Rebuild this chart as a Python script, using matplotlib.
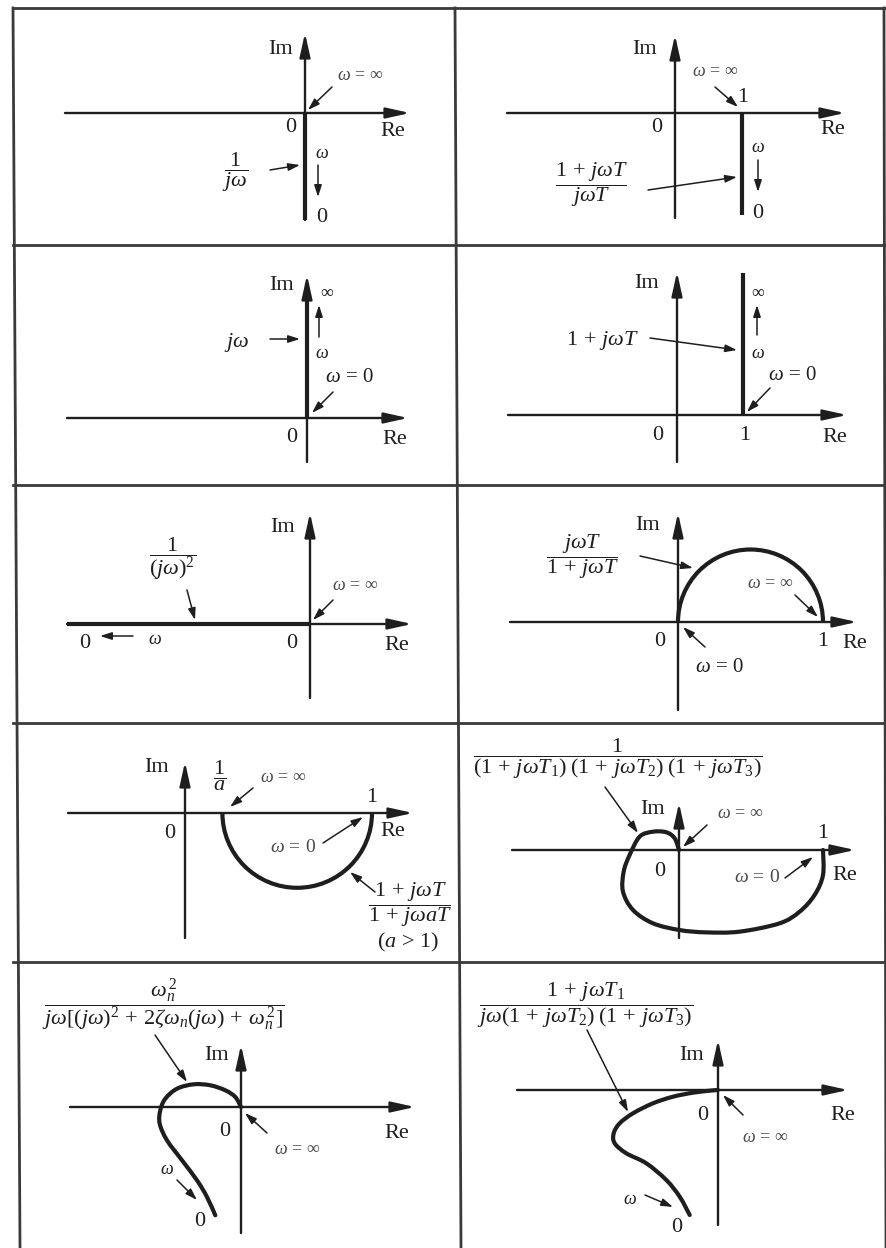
import numpy as np
import matplotlib
matplotlib.use('Agg')
import matplotlib.pyplot as plt
from matplotlib.patches import Arc, PathPatch
from matplotlib.path import Path
from matplotlib.transforms import Affine2D

plt.rcParams['font.family'] = ['Liberation Serif', 'DejaVu Serif']
plt.rcParams['mathtext.fontset'] = 'custom'
plt.rcParams['mathtext.rm'] = 'Liberation Serif'
plt.rcParams['mathtext.it'] = 'Liberation Serif:italic'
plt.rcParams['mathtext.bf'] = 'Liberation Serif:bold'

# ---- Nyquist loci, in Re/Im units of each panel ----
# straight loci: end points
re_int, im_int = [0, 0], [0, -1.07]              # 1/(jw)
re_pi, im_pi = [1, 1], [0, -1.52]                # (1+jwT)/(jwT)
re_diff, im_diff = [0, 0], [0, 1.35]             # jw
re_pd, im_pd = [1, 1], [0, 2.15]                 # 1+jwT
re_dint, im_dint = [0, -2.43], [0, 0]            # 1/(jw)^2

# lead network 1/a ratio
a_lag = 5.0

# third order lag 1/((1+jwT1)(1+jwT2)(1+jwT3))
re_lag3 = [1.0, 1.0, 0.942, 0.838, 0.699, 0.421, 0.190, 0.005, -0.181, -0.319,
           -0.389, -0.384, -0.343, -0.273, -0.181, -0.088, -0.030, 0.0]
im_lag3 = [0.0, -0.174, -0.312, -0.428, -0.509, -0.567, -0.572, -0.556, -0.509, -0.417,
           -0.289, -0.150, -0.035, 0.093, 0.127, 0.123, 0.081, 0.0]

# type 1 with 2nd order oscillatory part
re_osc = [-0.257, -0.34, -0.44, -0.59, -0.74, -0.813, -0.807, -0.757, -0.64, -0.473,
          -0.307, -0.157, -0.057, 0.0]
im_osc = [-1.083, -0.9, -0.733, -0.533, -0.333, -0.167, -0.033, 0.083, 0.183, 0.227,
          0.217, 0.167, 0.1, 0.0]

# type 1 with lead and two lags
re_t1 = [-0.283, -0.383, -0.517, -0.717, -0.917, -1.033, -1.043, -0.983, -0.85, -0.65,
         -0.45, -0.25, -0.083, 0.0]
im_t1 = [-1.25, -1.067, -0.9, -0.733, -0.633, -0.533, -0.433, -0.333, -0.233, -0.133,
         -0.067, -0.027, -0.007, 0.0]

INK = '#1e1e1e'
SOFT = '#4a4a4a'
LW_AX = 1.7
LW_CURVE = 3.0
FS = 16        # main labels
FS_W = 13      # small omega labels

fig = plt.figure(figsize=(8.86, 12.48), dpi=100)
base = fig.add_axes([0, 0, 1, 1])
base.set_xlim(0, 886)
base.set_ylim(1248, 0)
base.axis('off')


def panel(ox, oy, s):
    # Re/Im units -> page pixels
    return Affine2D().scale(s, -s).translate(ox, oy) + base.transData


def txt(x, y, s, size=FS, color=INK, **kw):
    base.text(x, y, s, fontsize=size, color=color, ha='center', va='center', **kw)


def ptr(x0, y0, x1, y1, lw=1.1):
    base.annotate('', xy=(x1, y1), xytext=(x0, y0),
                  arrowprops=dict(arrowstyle='-|>,head_length=0.5,head_width=0.16',
                                  lw=lw, color=INK, shrinkA=0, shrinkB=0,
                                  mutation_scale=14))


def cross(ox, oy, xl, xr, yt, yb):
    for (x0, y0, x1, y1) in [(xl, oy, xr, oy), (ox, yb, ox, yt)]:
        base.annotate('', xy=(x1, y1), xytext=(x0, y0),
                      arrowprops=dict(arrowstyle='-|>,head_length=0.72,head_width=0.16',
                                      lw=LW_AX, color=INK, shrinkA=0, shrinkB=0,
                                      mutation_scale=20))


def smooth(xs, ys):
    pts = np.column_stack([xs, ys]).astype(float)
    verts, codes = [pts[0]], [Path.MOVETO]
    n = len(pts)
    for i in range(n - 1):
        p0 = pts[i - 1] if i > 0 else pts[i]
        p1, p2 = pts[i], pts[i + 1]
        p3 = pts[i + 2] if i + 2 < n else pts[i + 1]
        verts += [p1 + (p2 - p0) / 6, p2 - (p3 - p1) / 6, p2]
        codes += [Path.CURVE4] * 3
    return Path(verts, codes)


def curve(xs, ys, tr):
    base.add_patch(PathPatch(smooth(xs, ys), fill=False, lw=LW_CURVE, ec=INK,
                             transform=tr, capstyle='round'))


W_INF = r'$\omega\,=\,\infty$'
W_ZERO = r'$\omega\,=\,0$'

# table frame
frame = dict(color='#3a3a3a', lw=2.0)
base.plot([13, 20], [8, 1248], **frame)
base.plot([455, 461], [8, 1248], **frame)
base.plot([884, 886], [8, 1248], **frame)
base.plot([13, 886], [8, 8], **frame)
for y in [245, 485, 723, 962]:
    base.plot([13, 886], [y, y], **frame)

# ---- row 1 left: 1/jw ----
cross(305, 113, 65, 410, 33, 220)
base.plot(re_int, im_int, transform=panel(305, 113, 100), lw=LW_CURVE, color=INK,
          solid_capstyle='butt')
txt(281, 50, 'Im')
txt(360, 75, W_INF, FS_W, SOFT)
ptr(332, 87, 308, 110)
txt(291, 128, '0')
txt(393, 132, 'Re')
txt(235, 172, r'$\dfrac{1}{j\omega}$')
ptr(270, 170, 300, 165)
txt(322, 154, r'$\omega$', FS_W)
ptr(318, 165, 318, 197)
txt(322, 218, '0')

# ---- row 1 right: (1+jwT)/jwT ----
cross(675, 113, 507, 845, 35, 218)
base.plot(re_pi, im_pi, transform=panel(675, 113, 67), lw=LW_CURVE, color=INK,
          solid_capstyle='butt')
txt(645, 49, 'Im')
txt(715, 72, W_INF, FS_W, SOFT)
txt(743, 97, '1')
ptr(715, 87, 738, 107)
txt(657, 128, '0')
txt(833, 130, 'Re')
txt(592, 185, r'$\dfrac{1\,+\,j\omega T}{j\omega T}$')
ptr(648, 190, 737, 177)
txt(758, 148, r'$\omega$', FS_W)
ptr(758, 160, 758, 192)
txt(758, 213, '0')

# ---- row 2 left: jw ----
cross(307, 418, 67, 408, 275, 462)
base.plot(re_diff, im_diff, transform=panel(307, 418, 100), lw=LW_CURVE, color=INK,
          solid_capstyle='butt')
txt(282, 285, 'Im')
txt(327, 291, r'$\infty$', FS_W)
ptr(319, 337, 319, 305)
txt(322, 353, r'$\omega$', FS_W)
txt(237, 342, r'$j\omega$')
ptr(270, 339, 300, 339)
txt(350, 378, W_ZERO, 15)
ptr(333, 392, 312, 413)
txt(292, 437, '0')
txt(395, 440, 'Re')

# ---- row 2 right: 1+jwT ----
cross(677, 415, 508, 847, 272, 462)
base.plot(re_pd, im_pd, transform=panel(677, 415, 66), lw=LW_CURVE, color=INK,
          solid_capstyle='butt')
txt(647, 283, 'Im')
txt(758, 291, r'$\infty$', FS_W)
ptr(757, 335, 757, 305)
txt(758, 353, r'$\omega$', FS_W)
txt(603, 340, r'$1\,+\,j\omega T$')
ptr(650, 338, 737, 350)
txt(793, 375, W_ZERO, 15)
ptr(770, 388, 747, 412)
txt(658, 435, '0')
txt(745, 435, '1')
txt(835, 437, 'Re')

# ---- row 3 left: 1/(jw)^2 ----
cross(310, 624, 67, 412, 513, 698)
base.plot(re_dint, im_dint, transform=panel(310, 624, 100), lw=LW_CURVE, color=INK,
          solid_capstyle='butt')
txt(283, 527, 'Im')
txt(355, 585, W_INF, FS_W, SOFT)
ptr(333, 600, 313, 620)
txt(292, 643, '0')
txt(397, 645, 'Re')
txt(173, 559, r'$\dfrac{1}{(j\omega)^2}$')
ptr(187, 590, 195, 620)
txt(85, 643, '0')
ptr(133, 636, 100, 636)
txt(155, 639, r'$\omega$', FS_W)

# ---- row 3 right: jwT/(1+jwT) ----
cross(678, 622, 510, 857, 513, 710)
base.add_patch(Arc((0.5, 0), 1.0, 1.0, theta1=0, theta2=180, lw=LW_CURVE, color=INK,
                   transform=panel(678, 622, 145)))
txt(648, 525, 'Im')
txt(583, 557, r'$\dfrac{j\omega T}{1\,+\,j\omega T}$')
ptr(640, 556, 693, 568)
txt(770, 583, W_INF, FS_W, SOFT)
ptr(795, 595, 818, 617)
txt(660, 642, '0')
txt(823, 641, '1')
txt(855, 644, 'Re')
txt(720, 667, W_ZERO, 15)
ptr(705, 647, 683, 627)

# ---- row 4 left: (1+jwT)/(1+jwaT) ----
cross(185, 813, 68, 413, 762, 938)
d = 1 - 1 / a_lag
base.add_patch(Arc(((1 + 1 / a_lag) / 2, 0), d, d, theta1=180, theta2=360, lw=LW_CURVE,
                   color=INK, transform=panel(185, 813, 187)))
txt(157, 768, 'Im')
txt(220, 776, r'$\dfrac{1}{a}$')
txt(283, 777, W_INF, FS_W, SOFT)
ptr(253, 788, 230, 807)
txt(372, 797, '1')
txt(170, 833, '0')
txt(393, 832, 'Re')
txt(293, 847, W_ZERO, 14, SOFT)
ptr(323, 843, 363, 817)
txt(410, 905, r'$\dfrac{1\,+\,j\omega T}{1\,+\,j\omega aT}$')
txt(408, 942, r'$(a\,>\,\mathit{1})$')
ptr(375, 892, 350, 872)

# ---- row 4 right: third order lag ----
cross(679, 850, 512, 855, 803, 938)
curve(re_lag3, im_lag3, panel(679, 850, 144))
txt(618, 759, r'$\dfrac{1}{(1\,+\,j\omega T_1)\;(1\,+\,j\omega T_2)\;(1\,+\,j\omega T_3)}$')
ptr(605, 787, 638, 833)
txt(653, 810, 'Im')
txt(740, 813, W_INF, FS_W, SOFT)
ptr(707, 825, 683, 847)
txt(823, 833, '1')
txt(660, 872, '0')
txt(845, 875, 'Re')
txt(757, 878, W_ZERO, 14, SOFT)
ptr(785, 878, 813, 857)

# ---- row 5 left: type 1, oscillatory ----
cross(241, 1107, 70, 415, 1045, 1233)
curve(re_osc, im_osc, panel(241, 1107, 100))
txt(163, 1005, r'$\dfrac{\omega_n^{\,2}}{j\omega[(j\omega)^2\,+\,2\zeta\omega_n(j\omega)\,+\,\omega_n^{\,2}]}$')
ptr(155, 1035, 187, 1082)
txt(217, 1055, 'Im')
txt(225, 1132, '0')
txt(397, 1133, 'Re')
txt(297, 1149, W_INF, FS_W, SOFT)
ptr(267, 1133, 245, 1113)
txt(167, 1170, r'$\omega$', FS_W)
ptr(177, 1180, 197, 1200)
txt(200, 1222, '0')

# ---- row 5 right: type 1, lead + two lags ----
cross(718, 1090, 517, 848, 1040, 1225)
curve(re_t1, im_t1, panel(718, 1090, 100))
txt(585, 1005, r'$\dfrac{1\,+\,j\omega T_1}{j\omega(1\,+\,j\omega T_2)\;(1\,+\,j\omega T_3)}$')
ptr(587, 1030, 628, 1112)
txt(692, 1055, 'Im')
txt(703, 1115, '0')
txt(843, 1115, 'Re')
txt(765, 1137, W_INF, FS_W, SOFT)
ptr(743, 1115, 723, 1095)
txt(630, 1199, r'$\omega$', FS_W)
ptr(645, 1195, 673, 1207)
txt(677, 1228, '0')

base.set_xlim(0, 886)
base.set_ylim(1248, 0)
fig.savefig('out.png', dpi=100, facecolor='white')
